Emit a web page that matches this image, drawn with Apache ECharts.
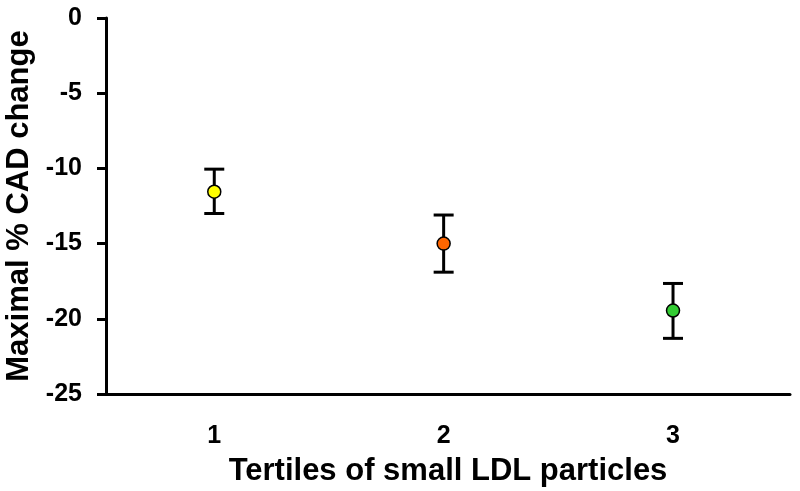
<!DOCTYPE html>
<html><head><meta charset="utf-8">
<script src="https://cdn.jsdelivr.net/npm/echarts@6/dist/echarts.min.js"></script>
<style>html,body{margin:0;padding:0;background:#fff}#c{width:800px;height:491px}</style>
</head><body><div id="c"></div>
<script>
const categories = [1, 2, 3];
const means = [-11.55, -15.0, -19.45];
const upper = [-10.05, -13.1, -17.65];
const lower = [-13.0, -16.9, -21.3];
const colors = ['#FFFF00', '#FF6600', '#33CC33'];

const font = 'Liberation Sans, Arial, sans-serif';
const chart = echarts.init(document.getElementById('c'));
chart.setOption({
  animation: false,
  backgroundColor: '#fff',
  grid: {left: 106, right: 10, top: 18, bottom: 97, outerBoundsMode: 'none', containLabel: false},
  xAxis: {
    type: 'value', min: 0.528, max: 3.51,
    name: 'Tertiles of small LDL particles', nameLocation: 'middle', nameGap: 62,
    nameTextStyle: {fontFamily: font, fontWeight: 'bold', fontSize: 31, color: '#000'},
    axisLine: {show: true, onZero: false, lineStyle: {color: '#000', width: 3}},
    axisTick: {show: false},
    splitLine: {show: false},
    axisLabel: {customValues: categories, fontFamily: font, fontWeight: 'bold', fontSize: 25, color: '#000', margin: 30}
  },
  yAxis: {
    type: 'value', min: -25, max: 0, interval: 5,
    name: 'Maximal % CAD change', nameLocation: 'middle', nameGap: 69, nameRotate: 90,
    nameTextStyle: {fontFamily: font, fontWeight: 'bold', fontSize: 31, color: '#000'},
    axisLine: {show: true, onZero: false, lineStyle: {color: '#000', width: 3}},
    axisTick: {show: true, inside: false, length: 9, lineStyle: {color: '#000', width: 3}},
    splitLine: {show: false},
    axisLabel: {fontFamily: font, fontWeight: 'bold', fontSize: 25, color: '#000', margin: 24}
  },
  series: [
    {
      type: 'custom',
      data: categories.map((c, i) => [c, upper[i], lower[i]]),
      renderItem: function (params, api) {
        const x = api.value(0);
        const p1 = api.coord([x, api.value(1)]);
        const p2 = api.coord([x, api.value(2)]);
        const hw = 10;
        const style = {stroke: '#000', lineWidth: 3};
        return {type: 'group', children: [
          {type: 'line', shape: {x1: p1[0], y1: p1[1], x2: p2[0], y2: p2[1]}, style},
          {type: 'line', shape: {x1: p1[0]-hw, y1: p1[1], x2: p1[0]+hw, y2: p1[1]}, style},
          {type: 'line', shape: {x1: p2[0]-hw, y1: p2[1], x2: p2[0]+hw, y2: p2[1]}, style}
        ]};
      },
      z: 1
    },
    {
      type: 'scatter',
      data: categories.map((c, i) => ({value: [c, means[i]], itemStyle: {color: colors[i]}})),
      symbolSize: 13,
      itemStyle: {borderColor: '#000', borderWidth: 1.5, opacity: 1},
      z: 2
    }
  ]
});
</script></body></html>
